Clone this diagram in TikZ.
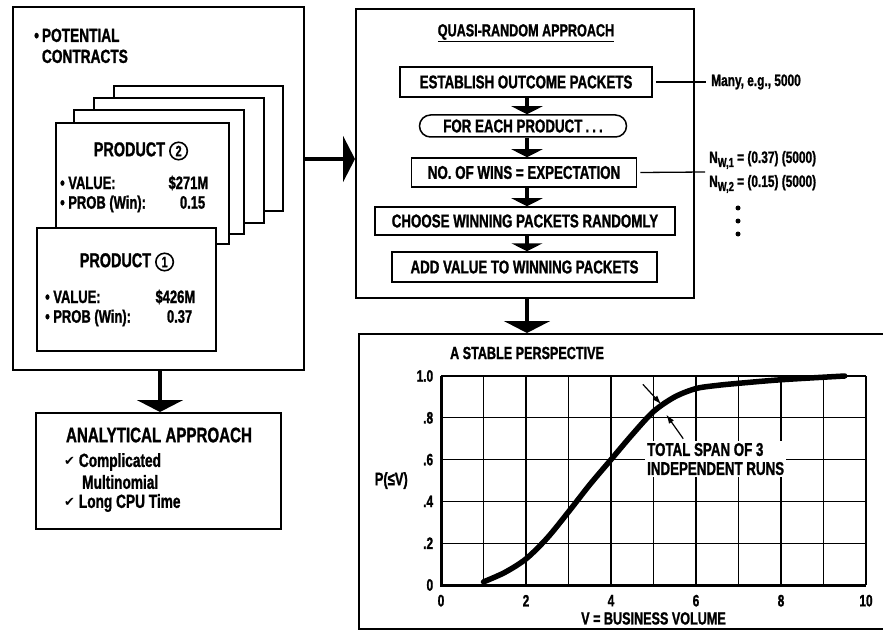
\documentclass[tikz,border=0pt]{standalone}
\usepackage{fontspec}
\setmainfont{Liberation Sans}[FakeStretch=0.72,FakeBold=1.2]
\newfontfamily\dejavu{DejaVu Sans}
\usetikzlibrary{arrows.meta}
\newcommand\myfs[2]{\bfseries\fontsize{#1}{#2}\selectfont}
\newcommand\cnum[1]{\tikz[baseline=(cn.base)]\node[circle,draw,line width=1.6pt,inner sep=0pt,minimum size=17.5pt,font=\myfs{15}{15}](cn){#1};}
\newcommand\ck{\raisebox{1pt}{\dejavu\fontsize{13}{13}\selectfont ✔}}
\begin{document}
\begin{tikzpicture}[x=1pt,y=-1pt,
  box/.style={draw,line width=1.8pt,fill=white,inner sep=0pt},
  card/.style={draw,line width=1.6pt,fill=white,inner sep=0pt},
  flowbox/.style={draw,line width=1.5pt,inner sep=0pt,font=\myfs{18.5}{18.5}},
  bigarrow/.style={line width=4.5pt,-{Triangle[width=46pt,length=12pt]}},
  smallarrow/.style={line width=4pt,-{Triangle[width=31pt,length=8pt]}},
  thinline/.style={line width=1.3pt},
  gridline/.style={line width=1.3pt},
  txt/.style={inner sep=0pt},
  dot/.style={circle,fill,inner sep=0pt,minimum size=5pt}]
\useasboundingbox (0,0) rectangle (883,631);
\fill[white] (0,0) rectangle (883,631);

% ---------- left panel ----------
\node[box,anchor=north west,minimum width=291pt,minimum height=363pt] (L) at (12,6) {};
\node[txt,anchor=north west,font=\myfs{19}{21}] (pc) at (34,27)
  {\begin{tabular}{@{}l@{\hspace{3pt}}l@{}}•&POTENTIAL\\&CONTRACTS\end{tabular}};

\node[card,anchor=north west,minimum width=169pt,minimum height=125pt] (c3) at (113,85) {};
\node[card,anchor=north west,minimum width=170pt,minimum height=125pt] (c2) at (93,97) {};
\node[card,anchor=north west,minimum width=170pt,minimum height=124pt] (c1) at (73,109) {};
\node[card,anchor=north west,minimum width=173pt,minimum height=121pt] (p2) at (55,122) {};
\node[txt,font=\myfs{20}{20}] (p2t) at (141,151) {PRODUCT \cnum{2}};
\node[txt,anchor=west,font=\myfs{18}{18}] (p2a) at (60,183) {\makebox[148pt]{• VALUE:\hfill\$271M}};
\node[txt,anchor=west,font=\myfs{18}{18}] (p2b) at (60,204) {\makebox[145pt]{• PROB (Win):\hfill 0.15}};

\node[card,anchor=north west,minimum width=179pt,minimum height=123pt] (p1) at (36,227) {};
\node[txt,font=\myfs{20}{20}] (p1t) at (127,262) {PRODUCT \cnum{1}};
\node[txt,anchor=west,font=\myfs{18}{18}] (p1a) at (45,297) {\makebox[150pt]{• VALUE:\hfill\$426M}};
\node[txt,anchor=west,font=\myfs{18}{18}] (p1b) at (45,318) {\makebox[147pt]{• PROB (Win):\hfill 0.37}};

% ---------- analytical ----------
\node[box,anchor=north west,minimum width=245pt,minimum height=116pt] (A) at (35,412) {};
\node[txt,font=\myfs{21}{21}] (at) at (159,435) {ANALYTICAL APPROACH};
\node[txt,anchor=west,font=\myfs{19}{19}] (a1) at (64,462) {\ck\ Complicated};
\node[txt,anchor=west,font=\myfs{19}{19}] (a2) at (82,482) {Multinomial};
\node[txt,anchor=west,font=\myfs{19}{19}] (a3) at (64,503) {\ck\ Long CPU Time};

% ---------- middle panel ----------
\node[box,anchor=north west,minimum width=338pt,minimum height=289pt] (M) at (355,8) {};
\node[txt,font=\myfs{17.5}{17.5}] (qt) at (526,33) {\underline{QUASI-RANDOM APPROACH}};
\node[flowbox,minimum width=252pt,minimum height=30pt] (fb1) at (526,82) {ESTABLISH OUTCOME PACKETS};
\node[flowbox,rounded corners=11pt,minimum width=207pt,minimum height=22pt] (fb2) at (523,126) {FOR EACH PRODUCT\,.\,.\,.};
\node[flowbox,minimum width=225pt,minimum height=29pt] (fb3) at (524,172.5) {NO. OF WINS = EXPECTATION};
\node[flowbox,minimum width=300pt,minimum height=28pt] (fb4) at (525,221) {CHOOSE WINNING PACKETS RANDOMLY};
\node[flowbox,minimum width=265pt,minimum height=30pt] (fb5) at (524.5,267) {ADD VALUE TO WINNING PACKETS};
\draw[smallarrow] (fb1.south -| 527,0) -- (fb2.north -| 527,0);
\draw[smallarrow] (fb2.south -| 527,0) -- (fb3.north -| 527,0);
\draw[smallarrow] (fb3.south -| 527,0) -- (fb4.north -| 527,0);
\draw[smallarrow] (fb4.south -| 527,0) -- (fb5.north -| 527,0);

\node[txt,anchor=west,font=\myfs{16.5}{16.5}] (many) at (711,82) {Many, e.g., 5000};
\draw[thinline] ([xshift=3pt]fb1.east) -- ([xshift=-5pt]many.west);
\node[txt,anchor=west,font=\myfs{16.5}{16.5}] (nw1) at (709,160) {N\raisebox{-4pt}{\fontsize{13}{13}\selectfont W,1} = (0.37) (5000)};
\node[txt,anchor=west,font=\myfs{16.5}{16.5}] (nw2) at (709,184) {N\raisebox{-4pt}{\fontsize{13}{13}\selectfont W,2} = (0.15) (5000)};
\coordinate (nl) at (705,172);
\draw[thinline] ([xshift=3pt]fb3.east) -- (nl);
\node[dot] (d1) at (738,208) {};
\node[dot] (d2) at (738,221) {};
\node[dot] (d3) at (738,234) {};

% ---------- graph panel ----------
\node[box,anchor=north west,minimum width=540pt,minimum height=295pt] (G) at (358,333) {};

% ---------- big arrows ----------
\draw[bigarrow] (L.east |- 0,159) -- (M.west |- 0,159);
\draw[bigarrow] (L.south -| 160,0) -- (A.north -| 160,0);
\draw[bigarrow] (M.south -| 527,0) -- (G.north -| 527,0);

\begin{scope}[shift={(441pt,-585pt)},x=42.5pt,y=209pt]
  \foreach \i in {1,...,10} \draw[gridline] (\i,0) -- (\i,1);
  \foreach \j in {0.2,0.4,0.6,0.8,1} \draw[gridline] (0,\j) -- (10,\j);
  \node[txt,fill=white,inner sep=2pt,anchor=north west,align=left,font=\myfs{18.5}{19}] (ts) at (4.8,0.69) {TOTAL SPAN OF 3\\INDEPENDENT RUNS};
  \draw[line width=3pt] (0,1) -- (0,0) -- (10,0);
  \draw[line width=5.5pt,line cap=round] plot[smooth] coordinates {(1,0.015) (1.5,0.06) (2,0.125) (2.5,0.225) (3,0.35) (3.5,0.48) (4,0.6) (4.5,0.72) (5,0.83) (5.5,0.9) (6,0.94) (6.5,0.955) (7,0.965) (8,0.982) (9.5,1.0)};
  \coordinate (s1) at (4.75,0.96); \coordinate (t1) at (5.18,0.865);
  \coordinate (s2) at (5.7,0.70);  \coordinate (t2) at (5.3,0.815);
  \draw[line width=1.2pt,-{Latex[length=9pt,width=6pt]}] (s1) -- (t1);
  \draw[line width=1.2pt,-{Latex[length=9pt,width=6pt]}] (s2) -- (t2);
  \foreach \v/\l [count=\k] in {1/1.0,0.8/.8,0.6/.6,0.4/.4,0.2/.2,0/0}
    \node[txt,anchor=east,font=\myfs{16.5}{16.5}] (yl\k) at (-0.18,\v) {\l};
  \foreach \v [count=\k] in {0,2,4,6,8,10}
    \node[txt,font=\myfs{16.5}{16.5}] (xl\k) at (\v,-0.075) {\v};
  \node[txt,font=\myfs{18}{18}] (pl) at (-1.17,0.5) {P(≤V)};
  \node[txt,font=\myfs{17.5}{17.5}] (vl) at (5.0,-0.16) {V = BUSINESS VOLUME};
  \node[txt,anchor=west,font=\myfs{17.5}{17.5}] (gt) at (0.21,1.11) {A STABLE PERSPECTIVE};
\end{scope}
\end{tikzpicture}
\end{document}
